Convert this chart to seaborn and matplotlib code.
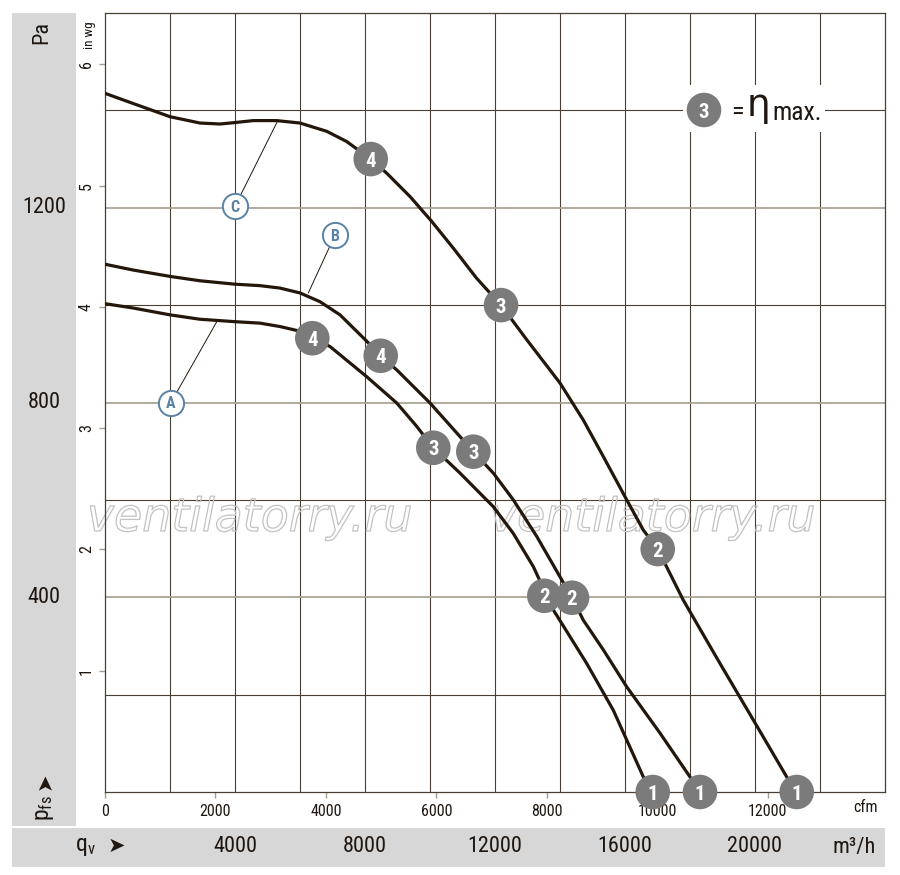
import numpy as np
import pandas as pd
import matplotlib
matplotlib.use("Agg")
import matplotlib.pyplot as plt
import matplotlib.patheffects as pe
import matplotlib.transforms as mtrans
from matplotlib.patches import Rectangle
from matplotlib import font_manager as fm
import seaborn as sns

# ---------------- data (m3/h, Pa) ----------------
qA = [0, 871, 2000, 2923, 4000, 4769, 5385, 5898, 6379, 6923, 8052, 8976, 9591, 10102, 10923, 11948, 12564, 13179, 13795, 14822, 15640, 16564, 16853]
pA = [1003, 994, 980, 971, 966, 963, 956, 948, 932, 915, 853, 799, 751, 707, 655, 586, 531, 463, 374, 264, 168, 31, 0]

qB = [0, 871, 2000, 2923, 4000, 4769, 5385, 6000, 6616, 7231, 8052, 8483, 8976, 10000, 10923, 11333, 11948, 12564, 13284, 14000, 14370, 14717, 15333, 16053, 17077, 18000, 18308]
pB = [1084, 1072, 1059, 1050, 1043, 1040, 1035, 1025, 1007, 980, 926, 896, 867, 799, 730, 699, 655, 600, 525, 442, 399, 353, 292, 216, 121, 31, 0]

qC = [0, 871, 2000, 2923, 3539, 4000, 4563, 5283, 6000, 6822, 7437, 8176, 8668, 9385, 10052, 10717, 11437, 12185, 12976, 14000, 14717, 15333, 16053, 16564, 17007, 17794, 18923, 19948, 20976, 21284]
pC = [1435, 1414, 1387, 1374, 1372, 1375, 1379, 1379, 1374, 1357, 1336, 1300, 1271, 1223, 1172, 1117, 1055, 1000, 929, 840, 764, 689, 600, 538, 499, 394, 264, 148, 31, 0]

op_numbers = ["4", "3", "2", "1"]
opA_q = [6379, 10102, 13518, 16853]
opA_p = [932, 707, 403, 0]
opB_q = [8483, 11333, 14370, 18308]
opB_p = [896, 699, 399, 0]
opC_q = [8176, 12185, 17007, 21284]
opC_p = [1300, 1000, 499, 0]

curve_letters = ["A", "B", "C"]
letter_q = [2030, 7077, 4000]
letter_p = [800, 1144, 1203]
leader_q = [3456, 6256, 5302]
leader_p = [968, 1025, 1377]

m3h_ticks = [4000, 8000, 12000, 16000, 20000]
pa_ticks = [400, 800, 1200]
cfm_ticks = [0, 2000, 4000, 6000, 8000, 10000, 12000]
inwg_ticks = [1, 2, 3, 4, 5, 6]
CFM_TO_M3H = 1.69901
INWG_TO_PA = 249.089

# ---------------- style ----------------
sns.set_theme(style="white")
avail = {f.name for f in fm.fontManager.ttflist}
narrow = next((f for f in ["Liberation Sans Narrow", "Roboto Condensed", "Liberation Sans", "DejaVu Sans"] if f in avail), "DejaVu Sans")
plt.rcParams["font.family"] = [narrow, "DejaVu Sans"]

W, H = 900, 875
def fx(px): return px / W
def fy(py): return 1 - py / H

DARK = "#4a3f33"
GRIDG = "#aaa497"
CURVE = "#23160b"
MARK = "#7b7b7b"
LBL = "#5a82a4"
STRIP = "#d7d7d7"
TXT = "#1e1610"

fig = plt.figure(figsize=(9, 8.75), dpi=100)
fig.patch.set_facecolor("white")
ax = fig.add_axes([fx(105), fy(792), fx(885) - fx(105), fy(13) - fy(792)])
ax.set_xlim(0, 24000)
ax.set_ylim(0, 1600)

# strips
fig.patches.append(Rectangle((fx(12), fy(826)), fx(76) - fx(12), fy(13) - fy(826),
                             transform=fig.transFigure, facecolor=STRIP, edgecolor="none", zorder=0))
fig.patches.append(Rectangle((fx(12), fy(867)), fx(885) - fx(12), fy(828) - fy(867),
                             transform=fig.transFigure, facecolor=STRIP, edgecolor="none", zorder=0))

# grid
for q in range(2000, 24000, 2000):
    ax.axvline(q, color=DARK, lw=0.8, zorder=1)
for p in range(200, 1600, 200):
    if p in pa_ticks:
        ax.axhline(p, color=GRIDG, lw=1.3, zorder=1)
    else:
        ax.axhline(p, color=DARK, lw=0.8, zorder=1)

for s in ax.spines.values():
    s.set_color(DARK)
    s.set_linewidth(0.9)

# watermark
for cx in [250, 653]:
    ax.text(fx(cx), fy(531), "ventilatorry.ru", transform=fig.transFigure, ha="center", va="baseline",
            fontsize=33, family="DejaVu Sans", style="italic", color="none", zorder=1.5,
            path_effects=[pe.Stroke(linewidth=0.9, foreground="#c2c2c2")])

# curves
df = pd.concat([
    pd.DataFrame({"q": qA, "p": pA, "curve": "A"}),
    pd.DataFrame({"q": qB, "p": pB, "curve": "B"}),
    pd.DataFrame({"q": qC, "p": pC, "curve": "C"}),
])
sns.lineplot(data=df, x="q", y="p", hue="curve", palette=[CURVE] * 3, lw=2.3,
             sort=False, estimator=None, legend=False, ax=ax, zorder=4)
for ln in ax.lines[-3:]:
    ln.set_solid_joinstyle("round")

# operating points
ops = pd.DataFrame({
    "q": opA_q + opB_q + opC_q,
    "p": opA_p + opB_p + opC_p,
    "n": op_numbers * 3,
})
sns.scatterplot(data=ops, x="q", y="p", s=620, color=MARK, edgecolor="none", ax=ax,
                zorder=6, clip_on=False, legend=False)
for q, p, n in zip(ops["q"], ops["p"], ops["n"]):
    ax.text(q, p, n, ha="center", va="center_baseline", color="white", fontsize=15,
            fontweight="bold", zorder=7, clip_on=False)

# curve letters
for L, q, p, lq, lp in zip(curve_letters, letter_q, letter_p, leader_q, leader_p):
    ax.plot([q, lq], [p, lp], color=CURVE, lw=0.7, zorder=3.5)
lab = pd.DataFrame({"q": letter_q, "p": letter_p})
sns.scatterplot(data=lab, x="q", y="p", s=330, facecolor="white", edgecolor=LBL, linewidth=1.4,
                ax=ax, zorder=6, legend=False)
for L, q, p in zip(curve_letters, letter_q, letter_p):
    ax.text(q, p, L, ha="center", va="center_baseline", color=LBL, fontsize=11.5,
            fontweight="bold", zorder=7)

# legend "3 = eta max."
ax.add_patch(Rectangle(((683 - 105) / 780, (792 - 132) / 779), 142 / 780, 47 / 779,
                       transform=ax.transAxes, facecolor="white", edgecolor="none", zorder=2))
ax.scatter([(704 - 105) / 780], [(792 - 110) / 779], s=620, color=MARK, transform=ax.transAxes,
           zorder=6, edgecolor="none")
ax.text((704 - 105) / 780, (792 - 110) / 779, "3", transform=ax.transAxes, ha="center",
        va="center_baseline", color="white", fontsize=15, fontweight="bold", zorder=7)
ax.text((737 - 105) / 780, (792 - 110) / 779, "=", transform=ax.transAxes, ha="center",
        va="center_baseline", color=TXT, fontsize=19, zorder=7)
ax.text((758 - 105) / 780, (792 - 106) / 779, "\u03b7", transform=ax.transAxes, ha="center",
        va="center", color=TXT, fontsize=27, family="DejaVu Sans", zorder=7)
ax.text((797 - 105) / 780, (792 - 110) / 779, "max.", transform=ax.transAxes, ha="center",
        va="center_baseline", color=TXT, fontsize=18.5, zorder=7)

# inner ticks (cfm, in wg)
ax.set_xticks([c * CFM_TO_M3H for c in cfm_ticks])
ax.set_xticklabels([str(c) for c in cfm_ticks])
ax.set_yticks([w * INWG_TO_PA for w in inwg_ticks])
ax.set_yticklabels([str(w) for w in inwg_ticks], rotation=90, va="center")
ax.tick_params(axis="x", direction="out", length=4, width=1, color="#a39d92", pad=5,
               labelsize=11.5, labelcolor=TXT, bottom=True)
ax.tick_params(axis="y", direction="out", length=4, width=1, color="#a39d92", pad=4,
               labelsize=11.5, labelcolor=TXT, left=True)
ax.set_xlabel("")
ax.set_ylabel("")
fig.text(fx(866), fy(808), "cfm", ha="center", va="center", fontsize=11.5, color=TXT)
fig.text(fx(90), fy(35), "in wg", ha="center", va="center", fontsize=9.5, rotation=90, color=TXT)

# outer strips: Pa and m3/h
ty = mtrans.blended_transform_factory(fig.transFigure, ax.transData)
for p in pa_ticks:
    fig.text(fx(44), p, str(p), transform=ty, ha="center", va="center", fontsize=16, color=TXT)
tx = mtrans.blended_transform_factory(ax.transData, fig.transFigure)
for q in m3h_ticks:
    fig.text(q, fy(847), str(q), transform=tx, ha="center", va="center", fontsize=16, color=TXT)
fig.text(fx(42), fy(33), "Pa", ha="center", va="center", fontsize=16, rotation=90, color=TXT)
fig.text(fx(45), fy(808), r"$\mathregular{p_{fs}}$", ha="center", va="center", fontsize=17,
         rotation=90, color=TXT)
fig.text(fx(45), fy(781), "\u27a4", ha="center", va="center", fontsize=15, rotation=90,
         color=TXT, family="DejaVu Sans")
fig.text(fx(85), fy(847), r"$\mathregular{q_v}$", ha="center", va="center", fontsize=17, color=TXT)
fig.text(fx(116), fy(846), "\u27a4", ha="center", va="center", fontsize=15, color=TXT,
         family="DejaVu Sans")
fig.text(fx(854), fy(847), "m\u00b3/h", ha="center", va="center", fontsize=16, color=TXT)

fig.savefig("out.png", dpi=100)
